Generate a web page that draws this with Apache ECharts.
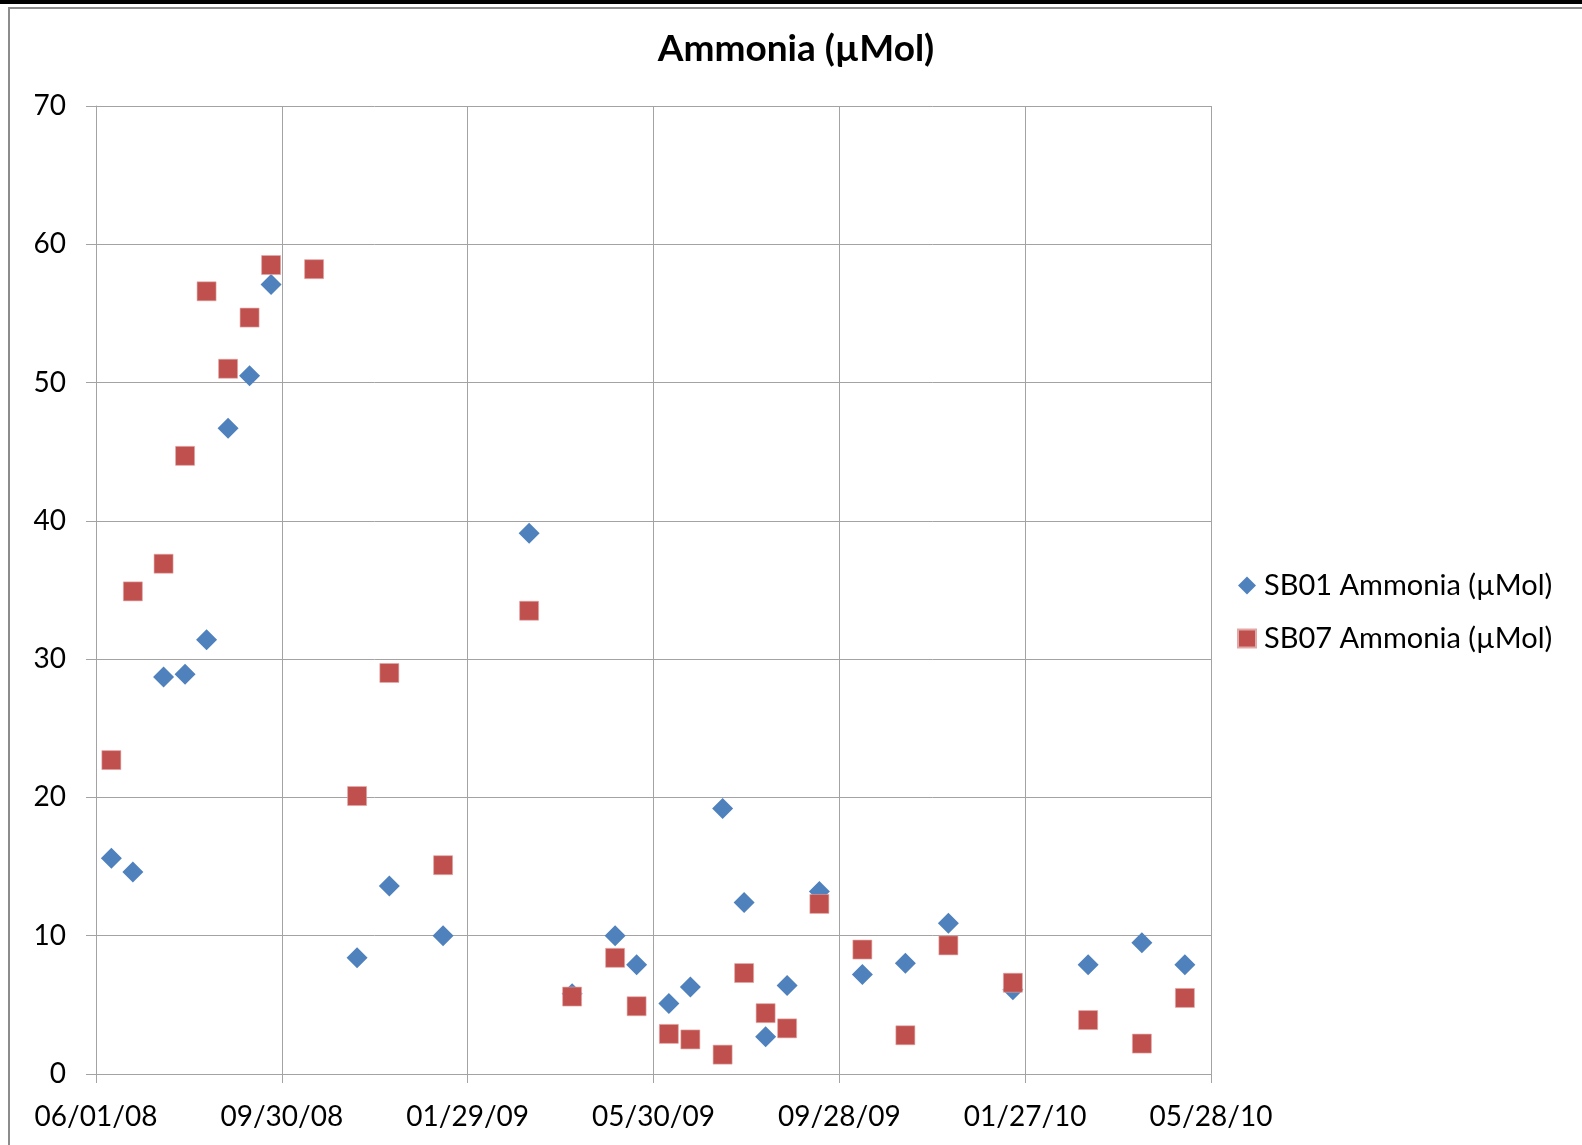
<!DOCTYPE html>
<html>
<head>
<meta charset="utf-8">
<title>Ammonia (µMol)</title>
<style>html,body{margin:0;padding:0;background:#fff}</style>
</head>
<body>
<div id="main" style="width: 1582px; height: 1145px;"></div>
<script src="https://cdn.jsdelivr.net/npm/echarts@6/dist/echarts.min.js"></script>
<script>
// sampling dates
var dates = ['2008-06-11','2008-06-25','2008-07-15','2008-07-29','2008-08-12','2008-08-26',
  '2008-09-09','2008-09-23','2008-10-21','2008-11-18','2008-12-09','2009-01-13','2009-03-10',
  '2009-04-07','2009-05-05','2009-05-19','2009-06-09','2009-06-23','2009-07-14','2009-07-28',
  '2009-08-11','2009-08-25','2009-09-15','2009-10-13','2009-11-10','2009-12-08','2010-01-19',
  '2010-03-09','2010-04-13','2010-05-11'];
var sb01 = [15.6, 14.6, 28.7, 28.9, 31.4, 46.7, 50.5, 57.1, null, 8.4, 13.6, 10.0, 39.1,
  5.8, 10.0, 7.9, 5.1, 6.3, 19.2, 12.4, 2.7, 6.4, 13.2, 7.2, 8.0, 10.9, 6.1, 7.9, 9.5, 7.9];
var sb07 = [22.7, 34.9, 36.9, 44.7, 56.6, 51.0, 54.7, 58.5, 58.2, 20.1, 29.0, 15.1, 33.5,
  5.6, 8.4, 4.9, 2.9, 2.5, 1.4, 7.3, 4.4, 3.3, 12.3, 9.0, 2.8, 9.3, 6.6, 3.9, 2.2, 5.5];
var xTickLabels = ['06/01/08','09/30/08','01/29/09','05/30/09','09/28/09','01/27/10','05/28/10'];
var yMin = 0, yMax = 70, yStep = 10;

var startDate = Date.UTC(2008, 5, 1);
var dayMs = 86400000;
var tickDays = 121;

function toDay(s) {
  var p = s.split('-');
  return Math.round((Date.UTC(+p[0], +p[1] - 1, +p[2]) - startDate) / dayMs);
}
function pairs(vals) {
  var out = [];
  for (var i = 0; i < dates.length; i++) {
    if (vals[i] != null) out.push([toDay(dates[i]), vals[i]]);
  }
  return out;
}

var font = 'Lato, "Open Sans", sans-serif';
var gridColor = '#a3a3a3';

var myChart = echarts.init(document.getElementById('main'));
var option = {
  backgroundColor: '#fff',
  animation: false,
  title: {
    text: 'Ammonia (µMol)',
    left: 791, top: 26, textAlign: 'center',
    textStyle: { fontFamily: font, fontSize: 37, fontWeight: 'bold', color: '#000' }
  },
  graphic: [
    { type: 'rect', shape: { x: 9, y: 8, width: 1620, height: 1200 },
      style: { fill: null, stroke: '#8c8c8c', lineWidth: 2 }, z: 100 },
    { type: 'rect', shape: { x: 0, y: 0, width: 1582, height: 4 },
      style: { fill: '#000' }, z: 101 }
  ],
  legend: {
    orient: 'vertical',
    left: 1232, top: 566,
    itemWidth: 18, itemHeight: 18, itemGap: 24,
    textStyle: { fontFamily: font, fontSize: 29, color: '#000', padding: [0, 0, 0, 3] },
    data: ['SB01 Ammonia (µMol)', 'SB07 Ammonia (µMol)']
  },
  grid: { left: 96, right: 371, top: 106, bottom: 71, containLabel: false },
  xAxis: {
    type: 'value', min: 0, max: tickDays * 6, interval: tickDays,
    axisLine: { show: true, lineStyle: { color: gridColor } },
    axisTick: { show: true, length: 9, lineStyle: { color: gridColor } },
    splitLine: { show: true, lineStyle: { color: gridColor } },
    axisLabel: {
      fontFamily: font, fontSize: 28, color: '#000', margin: 29,
      formatter: function (v) { return xTickLabels[Math.round(v / tickDays)]; }
    }
  },
  yAxis: {
    type: 'value', min: yMin, max: yMax, interval: yStep,
    axisLine: { show: true, lineStyle: { color: gridColor } },
    axisTick: { show: true, length: 10, lineStyle: { color: gridColor } },
    splitLine: { show: true, lineStyle: { color: gridColor } },
    axisLabel: { fontFamily: font, fontSize: 28, color: '#000', margin: 30 }
  },
  series: [
    { name: 'SB01 Ammonia (µMol)', type: 'scatter', symbol: 'diamond', symbolSize: 21,
      itemStyle: { color: '#4F81BD', opacity: 1 }, data: pairs(sb01) },
    { name: 'SB07 Ammonia (µMol)', type: 'scatter', symbol: 'rect', symbolSize: 19,
      itemStyle: { color: '#C0504D', borderColor: '#e2a8a6', borderWidth: 0.6, opacity: 1 },
      data: pairs(sb07) }
  ]
};
myChart.setOption(option);
</script>
</body>
</html>
